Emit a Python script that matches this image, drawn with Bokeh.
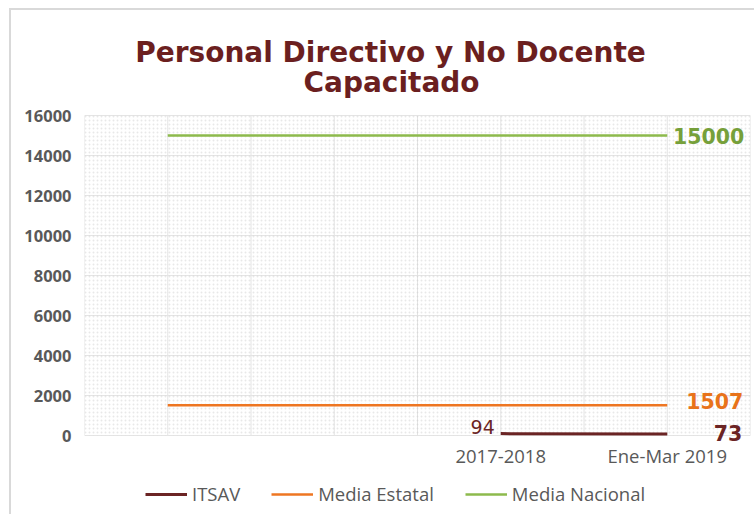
from bokeh.plotting import figure
from bokeh.models import (Range1d, FixedTicker, Label, Legend, LegendItem,
                          BoxAnnotation, NumeralTickFormatter)
from bokeh.embed import file_html
from bokeh.resources import INLINE

# ---- data ----
periods = ["", "", "", "", "2017-2018", "", "Ene-Mar 2019"]
itsav_periods = ["2017-2018", "Ene-Mar 2019"]
itsav_values = [94, 73]
media_estatal = [1507, 1507, 1507, 1507, 1507, 1507, 1507]
media_nacional = [15000, 15000, 15000, 15000, 15000, 15000, 15000]
y_ticks = [0, 2000, 4000, 6000, 8000, 10000, 12000, 14000, 16000]

title_lines = ["Personal Directivo y No Docente", "Capacitado"]

# ---- styles ----
MAROON = "#6B2424"
ORANGE = "#EE7622"
GREEN = "#8DBA4C"
GREEN_TXT = "#76A03A"
ORANGE_TXT = "#E8731A"
TITLE_C = "#6B1F1F"
GRAY_TXT = "#595959"
GRID_C = "#e4e4e4"
FONT = "Open Sans"

x_pos = list(range(1, len(periods) + 1))
grid_x = list(range(0, len(periods) + 2))
itsav_x = [x_pos[periods.index(p_)] for p_ in itsav_periods]
labeled_x = [x for x, lab in zip(x_pos, periods) if lab]

# the frame covers the whole figure so the titles and the legend can sit inside it;
# the value axis keeps 320 px for 0..16000, 105 px above for titles, 81 px below
units_per_px = y_ticks[-1] / 320
y_top = y_ticks[-1] + 105 * units_per_px
y_bottom = y_ticks[0] - 81 * units_per_px

p = figure(width=745, height=506, output_backend="svg", toolbar_location=None,
           x_range=Range1d(grid_x[0], grid_x[-1]), y_range=Range1d(y_bottom, y_top),
           min_border_left=73, min_border_right=6, min_border_top=0,
           min_border_bottom=0, title=None)
p.styles = {"border-left": "2px solid #d9d9d9", "border-top": "2px solid #d9d9d9",
            "margin-left": "9px", "margin-top": "8px"}
p.outline_line_color = None
p.background_fill_color = "white"
p.border_fill_color = "white"

# dotted background of the plot area
p.add_layout(BoxAnnotation(bottom=y_ticks[0], top=y_ticks[-1], fill_alpha=0, line_alpha=0,
                           hatch_pattern="dot", hatch_color="#cccccc", hatch_alpha=0.45,
                           hatch_scale=4, level="underlay"))

# grids
p.xgrid.visible = False
p.segment(x0=grid_x, y0=[y_ticks[0]] * len(grid_x), x1=grid_x,
          y1=[y_ticks[-1]] * len(grid_x), line_color=GRID_C, line_width=1,
          level="underlay")
p.ygrid.ticker = FixedTicker(ticks=y_ticks)
p.ygrid.grid_line_color = GRID_C

# axes
p.xaxis.fixed_location = y_ticks[0]
p.xaxis.ticker = FixedTicker(ticks=labeled_x)
p.xaxis.major_label_overrides = {x: periods[x - 1] for x in labeled_x}
p.xaxis.axis_line_color = None
p.xaxis.major_tick_line_color = None
p.xaxis.minor_tick_line_color = None
p.xaxis.major_label_text_font = FONT
p.xaxis.major_label_text_font_size = "18.5px"
p.xaxis.major_label_text_color = GRAY_TXT
p.xaxis.major_label_standoff = 1

p.yaxis.ticker = FixedTicker(ticks=y_ticks)
p.yaxis.formatter = NumeralTickFormatter(format="0")
p.yaxis.axis_line_color = None
p.yaxis.major_tick_line_color = None
p.yaxis.minor_tick_line_color = None
p.yaxis.major_label_text_font = FONT
p.yaxis.major_label_text_font_size = "16.5px"
p.yaxis.major_label_text_font_style = "bold"
p.yaxis.major_label_text_color = GRAY_TXT
p.yaxis.major_label_standoff = 7

# lines
r_it = p.line(itsav_x, itsav_values, line_color=MAROON, line_width=3)
r_me = p.line(x_pos, media_estatal, line_color=ORANGE, line_width=2.5)
r_mn = p.line(x_pos, media_nacional, line_color=GREEN, line_width=2.5)

# data labels
def lab(x, y, text, color, style, align, xo, yo, baseline="middle", size="20.5px",
        font="DejaVu Sans"):
    p.add_layout(Label(x=x, y=y, text=text, text_color=color, text_font=font,
                       text_font_style=style, text_font_size=size, text_align=align,
                       text_baseline=baseline, x_offset=xo, y_offset=yo))

lab(x_pos[-1], media_nacional[-1], str(media_nacional[-1]), GREEN_TXT, "bold", "right", 77, 0)
lab(x_pos[-1], media_estatal[-1], str(media_estatal[-1]), ORANGE_TXT, "bold", "right", 76, 4)
lab(itsav_x[-1], itsav_values[-1], str(itsav_values[-1]), MAROON, "bold", "right", 75, 1)
lab(itsav_x[0], itsav_values[0], str(itsav_values[0]), MAROON, "normal", "right", -6, 0,
    baseline="bottom", size="19px")

# two-line title, each line centred (screen units, measured from the frame's bottom-left)
for txt, sx, sy in [(title_lines[0], 306, 464), (title_lines[1], 307, 434)]:
    p.add_layout(Label(x=sx, y=sy, x_units="screen", y_units="screen", text=txt,
                       text_align="center", text_baseline="alphabetic",
                       text_font="DejaVu Sans", text_font_style="bold",
                       text_font_size="28px", text_color=TITLE_C))

# legend (inside the frame, below the zero line)
legend = Legend(items=[LegendItem(label="ITSAV", renderers=[r_it]),
                       LegendItem(label="Media Estatal", renderers=[r_me]),
                       LegendItem(label="Media Nacional", renderers=[r_mn])],
                orientation="horizontal", location=(61, 10),
                label_text_font=FONT, label_text_font_size="18.5px",
                label_text_color=GRAY_TXT, glyph_width=42, glyph_height=20,
                label_standoff=5, spacing=31, padding=0, margin=0,
                border_line_color=None, background_fill_alpha=0)
p.add_layout(legend, "center")

open("out.html", "w").write(file_html(p, INLINE))
